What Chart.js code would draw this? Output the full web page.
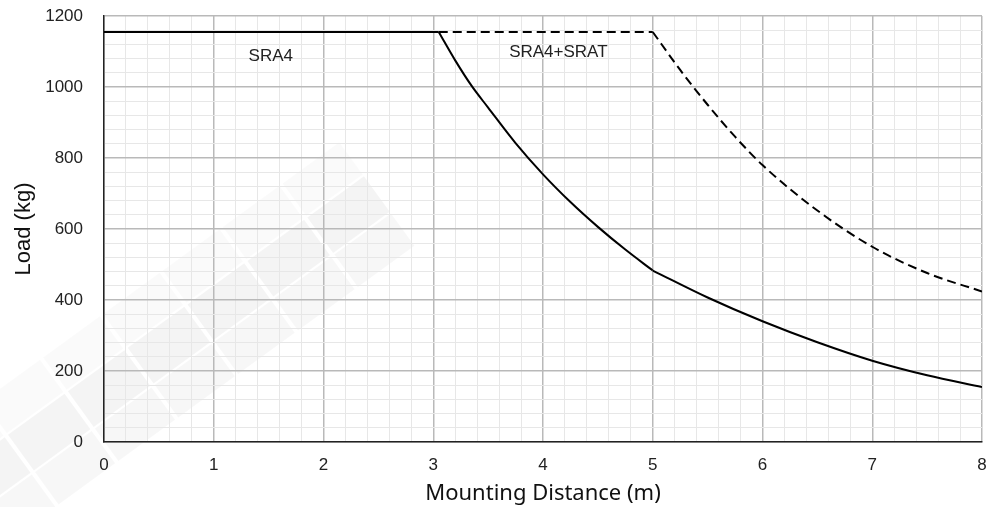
<!DOCTYPE html>
<html>
<head>
<meta charset="utf-8">
<script src="https://cdn.jsdelivr.net/npm/chart.js@4"></script>
<style>
  html, body { margin: 0; padding: 0; background: #ffffff; }
  #wrap { width: 996px; height: 507px; }
</style>
</head>
<body>
<div id="wrap"><canvas id="c" width="996" height="507"></canvas></div>
<script>
// ---- data ----
const sra4FlatDist  = [0, 3.05];
const sra4FlatLoad  = [1155, 1155];
const sra4CurveDist = [3.05, 3.2, 3.35, 3.5, 3.75, 4.0, 4.25, 4.5, 4.75, 5.0];
const sra4CurveLoad = [1155, 1075, 1003, 942, 842, 754, 676, 606, 542, 483];
const sra4TailDist  = [5.0, 5.5, 6.0, 6.5, 7.0, 7.5, 8.0];
const sra4TailLoad  = [483, 407, 340, 281, 229, 188, 155];
const sratFlatDist  = [3.05, 5.0];
const sratFlatLoad  = [1155, 1155];
const sratCurveDist = [5.0, 5.25, 5.5, 5.75, 6.0, 6.5, 7.0, 7.5, 8.0];
const sratCurveLoad = [1155, 1048, 950, 860, 780, 652, 550, 476, 424];

const xTickLabels = ['0', '1', '2', '3', '4', '5', '6', '7', '8'];
const yTickLabels = ['0', '200', '400', '600', '800', '1000', '1200'];
const curveLabels = ['SRA4', 'SRA4+SRAT'];
const labelDist = [1.52, 4.14];
const labelLoad = [1087, 1097];

const xTitle = 'Mounting Distance (m)';
const yTitle = 'Load (kg)';

function pts(xs, ys) { return xs.map((x, i) => ({ x: x, y: ys[i] })); }

const MAJOR = '#b9b9b9';
const MINOR = '#e7e7e7';
function near(v, step) { return Math.abs(v / step - Math.round(v / step)) < 1e-6; }

const watermark = {
  id: 'watermark',
  beforeDraw(chart) {
    const ctx = chart.ctx;
    ctx.save();
    ctx.translate(-10, 485);
    ctx.rotate(-36 * Math.PI / 180);
    const bands = [
      { off: -52, w: 40, c: 'rgba(0,0,0,0.020)' },
      { off: -8,  w: 44, c: 'rgba(0,0,0,0.045)' },
      { off: 36,  w: 40, c: 'rgba(0,0,0,0.030)' }
    ];
    bands.forEach(b => {
      ctx.fillStyle = b.c;
      for (let s = -30; s < 440; s += 74) {
        ctx.fillRect(s, b.off - b.w / 2, 70, b.w);
      }
    });
    ctx.restore();
  }
};

const annotations = {
  id: 'annotations',
  afterDatasetsDraw(chart) {
    const ctx = chart.ctx;
    const xs = chart.scales.x, ys = chart.scales.y;
    ctx.save();
    ctx.fillStyle = '#222';
    ctx.font = '17px "Liberation Sans", Arial, sans-serif';
    ctx.textAlign = 'center';
    ctx.textBaseline = 'middle';
    curveLabels.forEach((t, i) => {
      ctx.fillText(t, xs.getPixelForValue(labelDist[i]), ys.getPixelForValue(labelLoad[i]));
    });
    ctx.restore();
  }
};

const solid = { borderColor: '#000', borderWidth: 2, pointRadius: 0, fill: false };
const dashed = { borderColor: '#000', borderWidth: 2, pointRadius: 0, fill: false, borderDash: [9, 5] };

new Chart(document.getElementById('c'), {
  type: 'line',
  data: {
    datasets: [
      Object.assign({ label: 'SRA4 flat', data: pts(sra4FlatDist, sra4FlatLoad), tension: 0 }, solid),
      Object.assign({ label: 'SRA4 curve', data: pts(sra4CurveDist, sra4CurveLoad), cubicInterpolationMode: 'monotone' }, solid),
      Object.assign({ label: 'SRA4 tail', data: pts(sra4TailDist, sra4TailLoad), cubicInterpolationMode: 'monotone' }, solid),
      Object.assign({ label: 'SRA4+SRAT flat', data: pts(sratFlatDist, sratFlatLoad), tension: 0 }, dashed),
      Object.assign({ label: 'SRA4+SRAT curve', data: pts(sratCurveDist, sratCurveLoad), cubicInterpolationMode: 'monotone' }, dashed)
    ]
  },
  options: {
    responsive: false,
    animation: false,
    events: [],
    layout: { padding: { left: 0, right: 14, top: 16, bottom: 0 } },
    plugins: { legend: { display: false }, tooltip: { enabled: false } },
    scales: {
      x: {
        type: 'linear',
        min: 0, max: 8,
        afterFit(s) { s.height = 65; s.paddingLeft = 0; s.paddingRight = 0; },
        ticks: {
          stepSize: 0.2,
          autoSkip: false,
          maxRotation: 0,
          padding: 13,
          color: '#222',
          font: { family: '"Liberation Sans", Arial, sans-serif', size: 17 },
          callback(v) { return near(v, 1) ? xTickLabels[Math.round(v)] : ''; }
        },
        grid: {
          drawTicks: false,
          color: c => near(c.tick.value, 1) ? MAJOR : MINOR,
          lineWidth: c => near(c.tick.value, 1) ? 1.5 : 1
        },
        border: { color: '#222', width: 1.5 },
        title: {
          display: true, text: xTitle, color: '#111',
          font: { family: '"Noto Sans", sans-serif', size: 22 },
          padding: { top: 0, bottom: 0 }
        }
      },
      y: {
        type: 'linear',
        min: 0, max: 1200,
        afterFit(s) { s.width = 104; s.paddingTop = 0; s.paddingBottom = 0; },
        ticks: {
          stepSize: 40,
          autoSkip: false,
          padding: 21,
          color: '#222',
          font: { family: '"Liberation Sans", Arial, sans-serif', size: 17 },
          callback(v) { return near(v, 200) ? yTickLabels[Math.round(v / 200)] : ''; }
        },
        grid: {
          drawTicks: false,
          color: c => near(c.tick.value, 200) ? MAJOR : MINOR,
          lineWidth: c => near(c.tick.value, 200) ? 1.5 : 1
        },
        border: { color: '#222', width: 1.5 },
        title: {
          display: true, text: yTitle, color: '#111',
          font: { family: '"Liberation Sans", Arial, sans-serif', size: 22 },
          padding: { top: 11, bottom: 0 }
        }
      }
    }
  },
  plugins: [watermark, annotations]
});
</script>
</body>
</html>
